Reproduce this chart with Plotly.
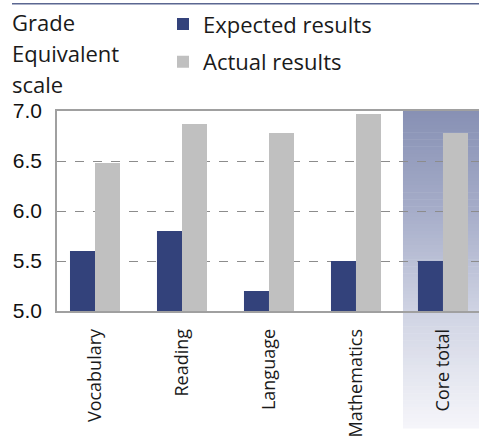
import plotly.graph_objects as go

categories = ["Vocabulary", "Reading", "Language", "Mathematics", "Core total"]
expected = [5.6, 5.8, 5.2, 5.5, 5.5]
actual = [6.48, 6.87, 6.78, 6.97, 6.78]
series_names = ["Expected results", "Actual results"]
y_ticks = [5.0, 5.5, 6.0, 6.5, 7.0]
title_lines = ["Grade", "Equivalent", "scale"]

W, H = 479, 438
ML, MR, MT, MB = 57, 0, 111, 121
PH = H - MT - MB
PW = W - ML - MR

def py2paper(py):
    return (H - MB - py) / PH

def px2paper(px):
    return (px - ML) / PW

HUM = "Open Sans, Noto Sans, sans-serif"

fig = go.Figure()
fig.add_trace(go.Bar(x=categories, y=expected, name=series_names[0],
                     marker=dict(color="#33427b", line=dict(width=0)),
                     legendgroup="a"))
fig.add_trace(go.Bar(x=categories, y=actual, name=series_names[1],
                     marker=dict(color="#c0c0c0", line=dict(width=0)),
                     legendgroup="b"))

# gradient highlight behind "Core total"
stops = [(0.0, (135, 144, 180)), (103 / 327, (166, 173, 201)),
         (206 / 327, (207, 211, 227)), (1.0, (246, 246, 250))]

def col_at(t):
    for (t0, c0), (t1, c1) in zip(stops[:-1], stops[1:]):
        if t0 <= t <= t1:
            f = (t - t0) / (t1 - t0)
            return "rgb(%d,%d,%d)" % tuple(round(a + (b - a) * f) for a, b in zip(c0, c1))
    return "rgb(%d,%d,%d)" % stops[-1][1]

N = 90
top_py, bot_py = MT, H
shapes = []
for i in range(N):
    y0p = top_py + (bot_py - top_py) * i / N
    y1p = top_py + (bot_py - top_py) * (i + 1) / N + 0.6
    shapes.append(dict(type="rect", xref="x", yref="paper",
                       x0=3.54, x1=4.6, y0=py2paper(min(y1p, H)), y1=py2paper(y0p),
                       fillcolor=col_at((i + 0.5) / N), line=dict(width=0),
                       layer="between"))
# top rule of the page
shapes.append(dict(type="line", xref="paper", yref="paper",
                   x0=px2paper(12), x1=1.0, y0=py2paper(0.6), y1=py2paper(0.6),
                   line=dict(color="#5b6791", width=1.5)))
fig.update_layout(shapes=shapes)

annotations = []
for line, cy in zip(title_lines, [19, 51, 83]):
    annotations.append(dict(text=line, xref="paper", yref="paper",
                            x=px2paper(10), y=py2paper(cy), xanchor="left",
                            yanchor="middle", showarrow=False,
                            font=dict(family=HUM, size=22, color="#1a1a1a")))
fig.update_layout(annotations=annotations)

fig.update_layout(
    width=W, height=H,
    margin=dict(l=ML, r=MR, t=MT, b=MB, pad=0),
    paper_bgcolor="white", plot_bgcolor="white",
    barmode="group", bargap=0.425, bargroupgap=0,
    showlegend=True,
    legend=dict(x=px2paper(163), y=py2paper(0), xanchor="left", yanchor="top",
                font=dict(family=HUM, size=22, color="#1a1a1a"),
                bgcolor="rgba(0,0,0,0)", tracegroupgap=6, traceorder="grouped"),
    xaxis=dict(range=[-0.4368, 4.414], showgrid=False, showline=True,
               linecolor="#a0a0a0", linewidth=1.5, mirror=True,
               tickangle=-90, ticks="", tickfont=dict(family=HUM, size=18, color="#1a1a1a"),
               ticklabelstandoff=9),
    yaxis=dict(range=[5.0, 7.0], tickvals=y_ticks, ticktext=["%.1f" % v for v in y_ticks],
               showgrid=True, gridcolor="#8c8c8c", griddash="dash", gridwidth=1,
               showline=True, linecolor="#a0a0a0", linewidth=1.5,
               ticks="", ticklabelstandoff=9, zeroline=False,
               tickfont=dict(family="Liberation Sans, Arial, sans-serif", size=21, color="#111")),
)

fig.write_html("out.html")
